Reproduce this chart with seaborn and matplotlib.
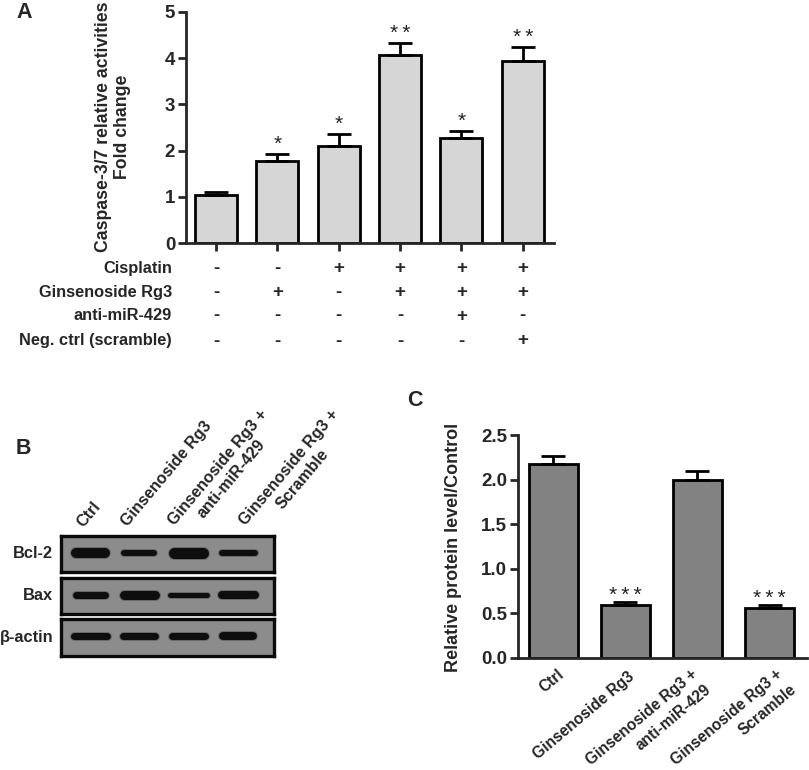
import numpy as np
import pandas as pd
import seaborn as sns
import matplotlib.pyplot as plt
from matplotlib.transforms import blended_transform_factory

W, H = 809, 770

# panel A data
groups_a = ['g1', 'g2', 'g3', 'g4', 'g5', 'g6']
fold_change = [1.04, 1.78, 2.11, 4.08, 2.28, 3.94]
fold_err = [0.06, 0.14, 0.25, 0.24, 0.14, 0.30]
stars_a = ['', '*', '*', '**', '*', '**']
row_names = ['Cisplatin', 'Ginsenoside Rg3', 'anti-miR-429', 'Neg. ctrl (scramble)']
cisplatin = ['-', '-', '+', '+', '+', '+']
rg3 = ['-', '+', '-', '+', '+', '+']
anti_mir = ['-', '-', '-', '-', '+', '-']
scramble = ['-', '-', '-', '-', '-', '+']

# panel B data
blot_labels = ['Ctrl', 'Ginsenoside Rg3', 'Ginsenoside Rg3 +\nanti-miR-429', 'Ginsenoside Rg3 +\nScramble']
blot_names = ['Bcl-2', 'Bax', 'β-actin']
bcl2_thick = [10, 6, 11, 6]
bax_thick = [7, 9, 5, 8]
actin_thick = [7, 7, 7, 8]
bcl2_len = [39, 36, 40, 39]
bax_len = [36, 40, 42, 41]
actin_len = [40, 39, 40, 38]

# panel C data
groups_c = ['Ctrl', 'Ginsenoside Rg3', 'Ginsenoside Rg3 +\nanti-miR-429', 'Ginsenoside Rg3 +\nScramble']
protein = [2.18, 0.59, 2.00, 0.56]
protein_err = [0.08, 0.04, 0.10, 0.035]
stars_c = ['', '***', '', '***']

sns.set_style('ticks')
plt.rcParams['font.family'] = ['Liberation Sans', 'DejaVu Sans']
plt.rcParams['font.weight'] = 'bold'

fig = plt.figure(figsize=(W / 100, H / 100), dpi=100)


def px_axes(x0, y0, x1, y1):
    # pixel box measured from top left of the image
    return fig.add_axes([x0 / W, 1 - y1 / H, (x1 - x0) / W, (y1 - y0) / H])


def bar_panel(ax, names, values, errs, stars, color, star_gap):
    df = pd.DataFrame({'group': names, 'value': values})
    sns.barplot(data=df, x='group', y='value', color=color, width=0.685, saturation=1,
                edgecolor='black', linewidth=2.0, errorbar=None, ax=ax)
    ax.errorbar(range(len(values)), values, yerr=[np.zeros(len(errs)), errs], fmt='none',
                ecolor='black', elinewidth=2.0, capsize=8.5, capthick=2.0)
    for i, s in enumerate(stars):
        if s:
            ax.annotate('\u2009'.join(s), (i, values[i] + errs[i]), xytext=(0, star_gap),
                        textcoords='offset points', ha='center', va='center',
                        fontsize=15, fontweight='normal', color='#222222')
    sns.despine(ax=ax)
    for side in ['left', 'bottom']:
        ax.spines[side].set_linewidth(2.0)
    ax.tick_params(width=2.0, length=5.8)
    ax.set_xlabel('')
    ax.set_ylabel('')


# A
ax_a = px_axes(186, 12, 554, 243)
bar_panel(ax_a, groups_a, fold_change, fold_err, stars_a, '#d6d6d6', 7)
ax_a.set_xlim(-0.49, 5.51)
ax_a.set_ylim(0, 5)
ax_a.set_yticks(range(6))
ax_a.tick_params(axis='y', labelsize=13.5, pad=2)
ax_a.set_xticks(range(6))
ax_a.set_xticklabels([])
fig.text(113 / W, 1 - 127 / H, 'Caspase-3/7 relative activities\nFold change', rotation=90,
         ha='center', va='center', ma='center', fontsize=12.7, linespacing=1.1)

trans = blended_transform_factory(ax_a.transData, fig.transFigure)
rows = [cisplatin, rg3, anti_mir, scramble]
row_y = [269, 293, 316, 341]
for name, signs, y in zip(row_names, rows, row_y):
    fig.text(172 / W, 1 - y / H, name, ha='right', va='center', fontsize=11.8)
    for i, s in enumerate(signs):
        ax_a.text(i, 1 - y / H, s, transform=trans, ha='center', va='center',
                  fontsize=13.5, clip_on=False)

# B
thicks = [bcl2_thick, bax_thick, actin_thick]
lens = [bcl2_len, bax_len, actin_len]
boxes = [(536, 572), (578, 614), (619, 656)]
lane_x = [90, 139, 188, 238]
for name, th, ln, (y0, y1) in zip(blot_names, thicks, lens, boxes):
    ax = px_axes(61, y0, 274, y1)
    ax.set_facecolor('#8c8c8c')
    ax.set_xlim(61, 274)
    ax.set_ylim(-1, 1)
    ax.set_xticks([])
    ax.set_yticks([])
    for side in ax.spines.values():
        side.set_linewidth(2.4)
        side.set_color('#0a0a0a')
    for cx, t, l in zip(lane_x, th, ln):
        ax.plot([cx - l / 2 + t / 2, cx + l / 2 - t / 2], [0.08, 0.08], color='#6a6a6a',
                lw=(t + 2) * 0.72, solid_capstyle='round')
        ax.plot([cx - l / 2 + t / 2, cx + l / 2 - t / 2], [0.08, 0.08], color='#0e0e0e',
                lw=t * 0.72, solid_capstyle='round')
    fig.text(53 / W, 1 - (y0 + y1) / 2 / H, name, ha='right', va='center', fontsize=11.8)

label_anchor = [(80, 525), (124, 524), (178, 529), (249, 529)]
for lab, (x, y) in zip(blot_labels, label_anchor):
    fig.text(x / W, 1 - y / H, lab, rotation=50, rotation_mode='anchor', ha='left', va='center',
             ma='center', fontsize=11.6)

# C
ax_c = px_axes(518, 435, 807, 658)
bar_panel(ax_c, groups_c, protein, protein_err, stars_c, '#828282', 4.5)
ax_c.set_xlim(-0.49, 3.52)
ax_c.set_ylim(0, 2.5)
ax_c.set_yticks([0, 0.5, 1.0, 1.5, 2.0, 2.5])
ax_c.set_yticklabels(['0.0', '0.5', '1.0', '1.5', '2.0', '2.5'])
ax_c.tick_params(axis='y', labelsize=13.5, pad=2)
ax_c.set_xticks(range(4))
ax_c.set_xticklabels([])
ax_c.tick_params(axis='x', length=0)
# two line labels go line by line, the second line sits lower right of the first
xlabel_anchor = [(562, 672), (632, 675), (695, 672), (780, 672)]
for lab, (x, y) in zip(groups_c, xlabel_anchor):
    for k, part in enumerate(lab.split('\n')):
        fig.text((x + 14 * k) / W, 1 - (y + 16 * k) / H, part, rotation=40, rotation_mode='anchor',
                 ha='right', va='center', fontsize=11.2)
fig.text(453 / W, 1 - 547 / H, 'Relative protein level/Control', rotation=90,
         ha='center', va='center', fontsize=13)

# panel letters
fig.text(16 / W, 1 - 12 / H, 'A', fontsize=15.5, ha='left', va='center')
fig.text(16 / W, 1 - 449 / H, 'B', fontsize=15.5, ha='left', va='center')
fig.text(407 / W, 1 - 401 / H, 'C', fontsize=15.5, ha='left', va='center')

fig.savefig('out.png', dpi=100)
